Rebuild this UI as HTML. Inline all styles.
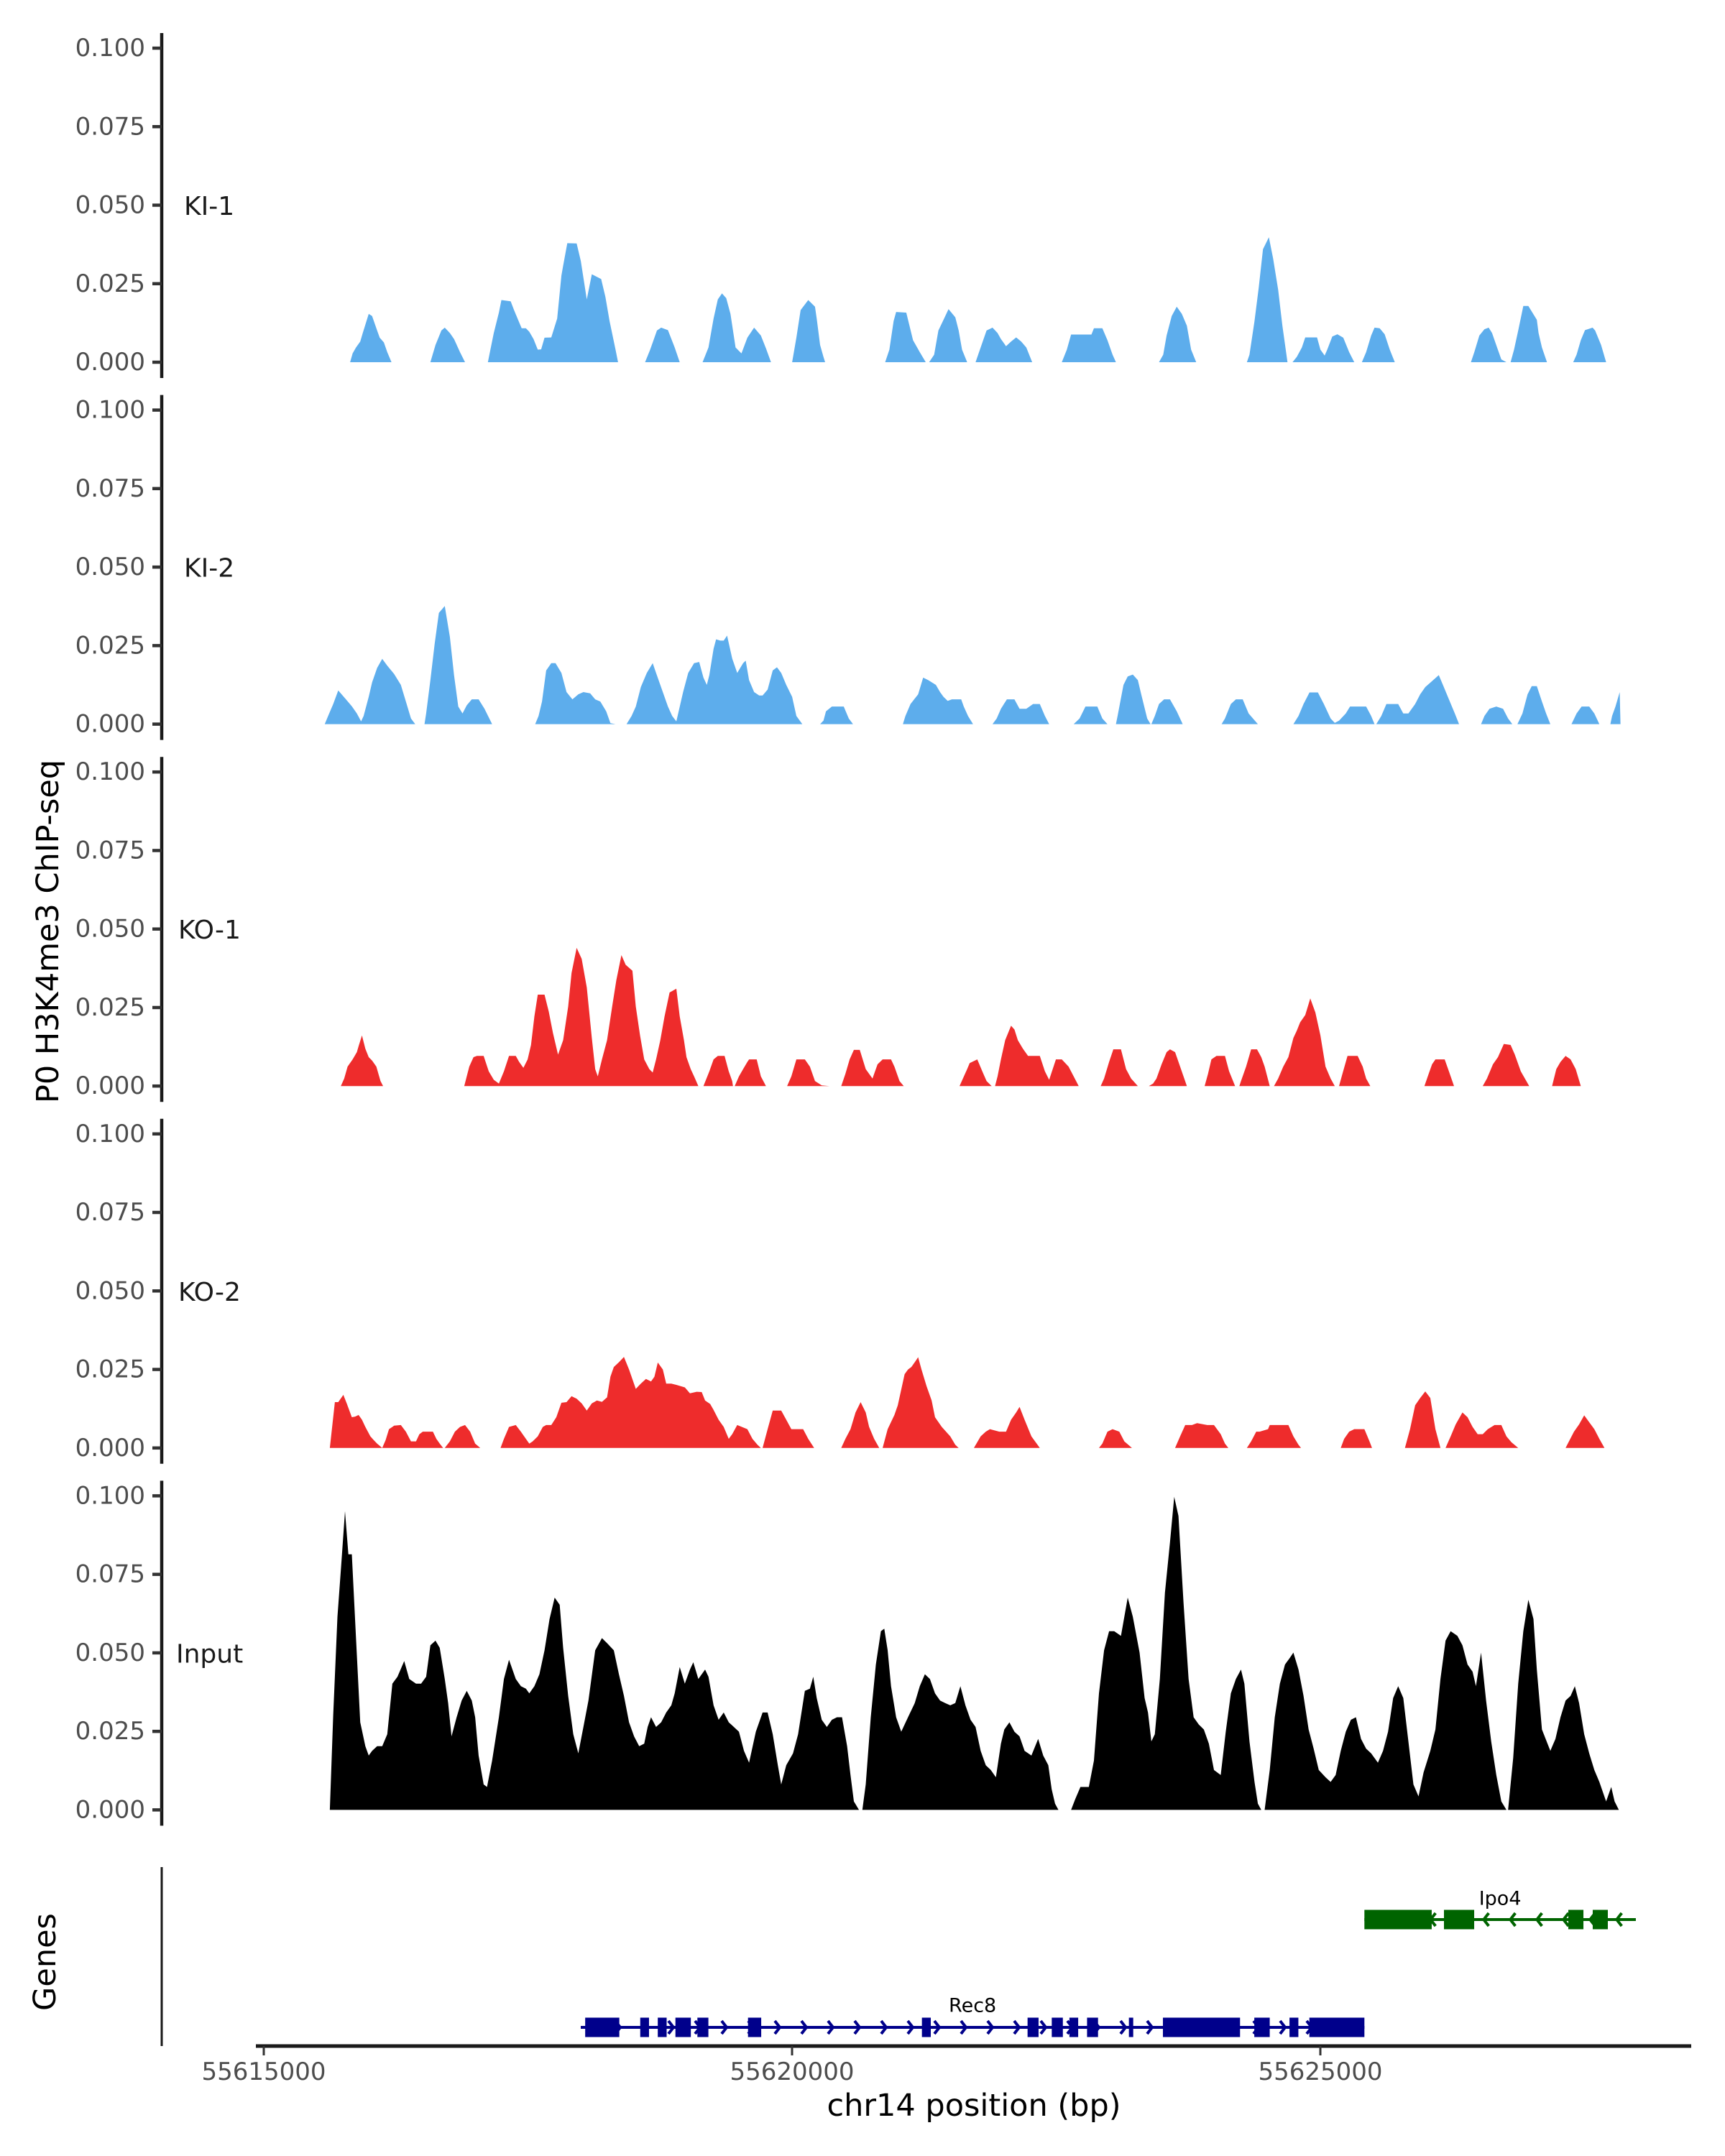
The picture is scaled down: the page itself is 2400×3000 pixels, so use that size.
<!DOCTYPE html>
<html><head><meta charset="utf-8"><style>
html,body{margin:0;padding:0;background:#fff;}
svg{display:block;font-family:"DejaVu Sans","Liberation Sans",sans-serif;}
</style></head><body>
<svg id="chart" width="2400" height="3000" viewBox="0 0 2400 3000" xmlns="http://www.w3.org/2000/svg">
<rect x="0" y="0" width="2400" height="3000" fill="#fff"/>
<g id="tracks"></g>
<g id="genes"></g>
<g id="xaxis"></g>
<text x="67" y="1296" transform="rotate(-90 67 1296)" text-anchor="middle" dominant-baseline="central" font-size="43" fill="#000">P0 H3K4me3 ChIP-seq</text>
<text x="63" y="2730" transform="rotate(-90 63 2730)" text-anchor="middle" dominant-baseline="central" font-size="43" fill="#000">Genes</text>
<text x="1355" y="2930" text-anchor="middle" dominant-baseline="central" font-size="43" fill="#000">chr14 position (bp)</text>
</svg>
<script>
// positions: bp offset from 55615000; values in units of 0.001
const trackNames = ["KI-1","KI-2","KO-1","KO-2","Input"];
const trackColors = ["#5DADEC","#5DADEC","#EE2C2C","#EE2C2C","#000000"];
const yTicks = [0, 0.025, 0.05, 0.075, 0.1];
const yTickLabels = ["0.000","0.025","0.050","0.075","0.100"];
const xTicks = [55615000, 55620000, 55625000];
const xTickLabels = ["55615000","55620000","55625000"];

const ki1Pos = [817,841,873,913,937,993,1025,1073,1097,1137,1169,1209,
1577,1625,1681,1713,1761,1801,1857,1905,
2121,2145,2177,2225,2249,2337,2369,2417,2441,2481,2513,2553,2593,2625,2657,2721,2777,2817,2833,2873,2961,3001,3057,3105,3193,3233,3273,3329,3353,
3609,3657,3721,3761,3825,3889,3937,
4153,4209,4257,4297,4337,4377,4417,4465,4521,4577,4641,4705,4753,4801,
5001,5041,5081,5153,5217,5233,5265,5297,5313,
5881,5921,5961,5985,6081,6145,6209,6265,
6297,6345,6385,6433,6481,6545,6577,6609,6657,
6737,6793,6841,6897,6945,6977,7025,7073,7121,7169,7217,7273,
7553,7601,7641,7833,7857,7937,7985,8033,8065,
8473,8513,8545,8593,8641,8689,8737,8777,8825,
9305,9329,9377,9417,9457,9513,9553,9601,9641,9689,
9737,9777,9825,9857,9969,10001,10041,10065,10113,10161,10217,10273,10321,
10393,10433,10481,10513,10561,10609,10657,10705,
11425,11457,11505,11553,11593,11625,11673,11713,11761,
11801,11833,11873,11921,11969,12049,12065,12097,12145,
12393,12425,12465,12505,12577,12601,12657,12705];
const ki1Val = [0,2.8,4.7,6.6,9.3,15.4,14.7,10.1,7.8,6.3,3.2,0,
0,5.5,10.1,11.0,9.3,7.4,3.2,0,
0,4.0,9.3,15.8,19.8,19.4,16.6,12.7,10.8,10.8,9.7,7.4,4.0,4.1,7.8,7.9,13.9,27.6,30.7,37.9,37.8,32.2,20.0,28.0,26.5,20.8,13.1,4.0,0,
0,4.0,10.1,11.0,10.2,4.7,0,
0,4.7,13.9,20.0,21.9,20.4,15.4,4.7,2.8,7.8,11.0,8.5,4.4,0,
0,7.8,16.6,19.8,17.7,13.9,5.5,1.7,0,
0,4.0,13.1,16.0,15.8,7.0,3.2,0,
0,2.4,10.1,13.5,16.9,14.3,10.1,4.0,0,
0,5.5,10.1,11.0,9.3,7.4,5.1,6.6,7.9,6.6,4.7,0,
0,4.0,8.8,8.8,10.8,10.8,7.0,2.4,0,
0,2.4,8.5,14.7,17.7,15.4,11.6,4.0,0,
0,2.4,13.1,23.8,36.0,39.8,33.0,23.1,11.6,0,
0,1.7,4.7,7.9,7.9,4.0,2.1,4.0,8.2,8.9,7.8,3.2,0,
0,3.2,8.5,11.0,10.8,8.9,4.0,0,
0,3.2,8.5,10.5,11.0,9.3,4.7,0.9,0,
0,4.0,10.1,17.9,17.9,13.5,9.3,4.7,0,
0,2.4,7.0,10.2,11.0,10.1,5.5,0];

const ki2Pos = [577,609,657,705,737,785,833,881,921,945,993,1025,1073,1121,1169,1233,1297,1345,1393,1433,
1521,1537,1577,1617,1657,1713,1761,1801,1841,1881,1921,1969,2033,2089,2161,
2569,2601,2633,2673,2721,2761,2817,2865,2921,2977,3025,3089,3137,3185,3241,3281,3329,
3433,3481,3521,3569,3625,3681,3713,3777,3825,3865,3905,3969,4017,4073,4121,4161,4193,4217,4257,4281,4321,4353,4385,4433,4481,4537,4561,4593,4641,4689,4721,4769,4817,4857,4897,4945,5001,5041,5097,
5265,5297,5321,5377,5489,5537,5577,
6049,6073,6121,6193,6241,6289,6361,6401,6433,6473,6513,6601,6625,6665,6713,
6897,6937,6977,7033,7105,7153,7217,7281,7345,7393,7433,
7665,7721,7777,7889,7937,7985,
8065,8081,8137,8177,8225,8273,8305,8361,8393,
8401,8433,8473,8521,8577,8641,8697,
9065,9097,9153,9201,9265,9321,9409,
9745,9793,9841,9897,9977,10033,10097,10137,10177,10241,10281,10321,10369,10433,10481,10513,
10529,10577,10625,10657,10737,10785,10833,10897,10945,10993,11057,11121,11169,11217,11273,11313,
11521,11553,11601,11665,11729,11777,11817,
11865,11913,11961,12001,12049,12097,12137,12177,
12377,12425,12473,12545,12593,12641,
12745,12761,12793,12833,12841];
const ki2Val = [0,2.6,6.4,10.7,9.5,7.6,5.7,3.4,0.9,2.6,8.7,13.3,17.9,20.8,18.6,16.0,12.5,7.2,1.8,0,
0,3.4,14.0,25.5,35.4,37.6,27.8,15.6,5.6,3.4,6.0,7.9,7.9,4.9,0,
0,2.6,7.2,17.1,19.4,19.4,16.3,10.2,7.9,9.5,10.2,9.8,7.9,7.2,4.1,0.3,0,
0,2.6,5.6,11.8,16.3,19.4,16.3,10.2,5.6,2.6,0.9,10.2,16.3,19.4,19.8,14.8,12.5,15.6,24.0,27.0,26.6,26.6,28.2,20.9,16.3,19.4,20.2,14.0,10.2,9.1,9.1,11.0,17.1,18.1,16.3,12.5,8.7,2.6,0,
0,1.1,4.1,5.6,5.6,1.8,0,
0,2.6,6.4,9.5,14.8,14.0,12.5,10.2,8.7,7.4,7.9,7.9,5.6,2.6,0,
0,1.8,4.9,7.9,7.9,4.9,4.9,6.4,6.4,2.6,0,
0,1.8,5.6,5.6,1.8,0,
0,2.6,12.5,15.2,15.8,14.0,9.5,1.8,0,
0,2.6,6.4,7.9,7.9,4.1,0,
0,1.8,6.4,7.9,7.9,3.4,0,
0,2.6,6.4,10.1,10.1,6.4,1.8,0.4,1.1,3.4,5.6,5.6,5.6,5.6,2.6,0,
0,2.6,6.4,6.4,6.4,3.4,3.4,6.4,9.5,11.8,13.7,15.6,11.8,7.9,3.4,0,
0,2.6,4.9,5.6,4.9,1.8,0,
0,3.4,9.5,12.1,12.1,7.2,3.4,0,
0,3.4,5.6,5.6,3.4,0,
0,2.6,5.6,10.2,0];

const ko1Pos = [729,761,793,841,881,897,929,961,993,1025,1065,1105,1129,
1897,1945,1985,2017,2081,2129,2177,2225,2273,2321,2385,2417,2457,2497,2529,2561,2593,2657,2697,2737,2785,2833,2881,2913,2961,3009,3057,3105,3137,3161,3201,3249,3297,3337,3385,3425,3489,3521,3561,3601,3649,3681,3713,3753,3793,3841,3905,3937,3977,4001,4041,4073,4113,
4161,4217,4257,4297,4361,4401,4433,4441,
4457,4497,4537,4577,4593,4665,4705,4753,
4953,4993,5041,5121,5169,5217,5281,5353,
5465,5505,5545,5585,5641,5697,5761,5809,5857,5937,5969,6017,6057,
6585,6617,6657,6681,6753,6801,6841,6889,
6921,6945,6977,7017,7073,7105,7137,7185,7233,7345,7393,7433,7497,7553,7617,7665,7713,
7921,7953,8001,8041,8113,8161,8209,8273,
8377,8417,8449,8497,8545,8577,8625,8673,8737,
8905,8937,8969,9017,9097,9137,9193,
9233,9249,9297,9345,9401,9441,9473,9521,
9561,9601,9649,9697,9745,9777,9809,9857,9905,9953,10001,10049,10097,10137,
10177,10209,10257,10353,10401,10433,10473,
10985,11025,11057,11089,11177,11217,11265,
11537,11577,11633,11681,11737,11801,11841,11897,11977,
12193,12233,12273,12321,12369,12417,12465];
const ko1Val = [0,2.4,6.2,8.5,10.8,12.7,16.1,11.9,9.2,8.1,6.2,1.6,0,
0,6.2,9.2,9.6,9.6,4.7,2.0,0.8,4.7,9.6,9.6,7.7,5.8,8.5,13.1,22.2,29.1,29.1,23.7,16.9,10.0,14.6,25.3,36.0,44.0,40.5,31.4,15.3,5.4,3.1,8.5,14.6,25.3,33.7,41.7,38.6,36.7,25.3,16.1,8.5,5.4,4.3,8.5,14.6,22.2,29.8,31.0,22.2,14.6,9.2,5.4,3.1,0,
0,4.7,8.5,9.6,9.6,4.7,1.6,0,
0,3.1,5.4,7.7,8.5,8.5,3.1,0,
0,3.1,8.5,8.5,6.2,1.6,0.2,0,
0,3.9,8.5,11.5,11.5,5.4,2.4,6.9,8.5,8.5,6.2,1.6,0,
0,2.4,5.4,7.3,8.5,4.7,1.6,0,
0,3.1,8.5,14.6,19.2,18.0,14.6,11.9,9.6,9.6,4.7,2.0,8.5,8.5,6.2,3.1,0,
0,2.4,7.7,11.7,11.7,5.4,2.4,0,
0,0.8,2.4,6.9,10.8,11.7,10.8,6.2,0,
0,3.9,8.5,9.6,9.6,4.7,0,
0,1.6,6.2,11.7,11.7,9.2,6.2,0,
0,2.4,6.2,9.2,15.3,17.6,20.3,22.6,27.9,23.4,16.1,6.2,2.4,0,
0,3.9,9.6,9.6,6.2,2.4,0,
0,3.9,6.9,8.5,8.5,4.7,0,
0,2.4,6.9,9.2,13.4,13.1,10.0,4.7,0,
0,5.4,7.7,9.6,8.5,5.4,0];

const ko2Pos = [625,657,673,705,753,785,833,865,897,929,961,1009,1041,1073,1121,1153,1185,1217,1233,1297,1345,1393,1441,1473,1505,1601,1633,1665,1697,1713,1761,1809,1857,1905,1953,2001,2049,
2241,2273,2321,2385,2433,2481,2513,2545,2593,2641,2673,2721,2769,2817,2865,2913,2961,3009,3057,3105,3153,3201,3249,3281,3313,3361,3409,3457,3521,3569,3617,3665,3697,3729,3777,3809,3857,3905,3985,4033,4097,4145,4177,4225,4257,4305,4353,4401,4433,4481,4577,4625,4673,4705,
4721,4769,4817,4897,4945,4993,5105,5153,5209,
5465,5505,5553,5601,5649,5697,5729,5777,5825,5857,5905,5969,6001,6065,6097,6129,6161,6193,6225,6273,6321,6353,6417,6497,6545,6577,
6721,6785,6833,6873,6961,7025,7073,7121,7153,7201,7265,7345,
7905,7937,7985,8033,8097,8145,8217,
8625,8673,8721,8785,8833,8929,8993,9057,9097,9129,
9305,9345,9393,9425,9505,9521,9697,9745,9793,9817,
10193,10225,10273,10321,10417,10465,10489,
10801,10849,10897,10945,10993,11041,11089,11137,
11185,11233,11281,11345,11393,11441,11489,11537,11585,11649,11713,11761,11809,11873,
12321,12353,12401,12449,12497,12545,12593,12641,12689];
const ko2Val = [0,9.8,14.6,14.6,16.9,14.2,9.8,10.0,10.5,9.0,6.7,3.7,2.5,1.4,0,2.5,6.0,6.7,7.1,7.3,5.2,2.1,2.1,4.4,5.2,5.2,2.9,1.4,0,0,2.1,5.2,6.7,7.3,5.2,1.4,0,
0,2.9,6.7,7.3,5.2,2.9,1.4,2.1,3.7,6.7,7.3,7.3,9.8,14.4,14.6,16.5,15.7,14.2,11.9,14.2,15.1,14.7,16.1,22.7,25.8,27.3,29.0,25.0,18.8,20.5,22.0,21.2,22.7,27.2,25.0,20.5,20.5,20.1,19.3,17.4,17.9,17.8,15.1,14.0,12.1,9.0,6.7,2.9,4.4,7.3,6.0,2.9,1.0,0,
0,6.0,11.9,11.9,9.0,6.0,6.0,2.9,0,
0,2.9,6.0,11.3,14.6,11.3,6.7,2.9,0,0,6.0,10.5,13.6,23.5,25.0,25.8,27.3,28.9,25.0,19.7,15.1,9.8,6.7,3.7,1.0,0,
0,3.7,5.2,6.0,5.2,5.2,9.0,11.3,13.1,9.0,3.7,0,
0,1.4,5.2,6.0,5.2,2.1,0,
0,3.7,7.3,7.3,7.9,7.3,7.3,4.4,1.4,0,
0,2.1,5.2,5.2,6.0,7.3,7.3,3.7,1.0,0,
0,2.9,5.2,6.0,6.0,2.1,0,
0,6.0,13.6,15.9,18.0,15.9,6.0,0,
0,3.7,7.5,11.3,9.8,6.7,4.4,4.4,6.0,7.3,7.3,3.7,1.8,0,
0,2.1,5.2,7.5,10.4,8.2,6.0,2.9,0];

const inputPos = [625,657,697,737,769,801,833,881,913,961,993,1025,1073,1121,1169,1217,1265,1329,1377,1441,1489,1537,1577,1625,1665,1713,1745,1777,1825,1873,1921,1969,2001,2033,2081,2113,2161,2225,2273,2321,2385,2433,2481,2513,2561,2609,2657,2705,2753,2801,2833,2881,2929,2977,3025,3073,3137,3201,3249,3313,3361,3409,3457,3505,3553,3601,3633,3665,3713,3761,3809,3857,3889,3937,3985,4033,4065,4113,4177,4209,4257,4305,4353,4401,4449,4497,4545,4593,4657,4721,4769,4817,4865,4897,4945,5009,5057,5121,5169,5201,5233,5281,5329,5377,5425,5473,5521,5553,5585,5633,
5665,5697,5745,5793,5841,5873,5905,5937,5985,6033,6097,6161,6209,6257,6305,6353,6401,6449,6497,6545,6593,6641,6689,6737,6785,6833,6881,6929,6977,7009,7057,7105,7153,7201,7265,7329,7377,7425,7457,7489,7521,
7641,7681,7729,7809,7857,7905,7953,8001,8049,8113,8177,8225,8289,8337,8369,8401,8433,8481,8529,8577,8617,8657,8705,8753,8801,8849,8897,8945,8993,9057,9105,9153,9201,9249,9281,9329,9377,9409,9441,
9473,9521,9569,9617,9665,9713,9745,9793,9841,9889,9937,9985,10049,10097,10145,10193,10241,10289,10337,10385,10433,10481,10545,10593,10641,10689,10737,10785,10833,10881,10929,10977,11041,11089,11137,11185,11233,11297,11345,11393,11441,11473,11521,11569,11617,11665,11713,11761,11777,11825,11873,11921,11969,12017,12049,12097,12177,12225,12273,12321,12369,12409,12449,12497,12545,12593,12641,12705,12753,12785,12825];
const inputVal = [0,30.2,61.5,79.8,95.1,81.4,81.4,49.3,27.9,20.3,17.3,18.8,20.3,20.3,24.1,40.2,42.4,47.4,41.7,40.2,40.2,42.4,52.4,53.9,51.6,41.7,34.0,23.4,29.5,34.8,37.9,34.8,29.5,17.3,8.1,7.3,15.7,29.5,41.7,47.8,41.7,39.4,38.6,37.1,39.4,43.2,50.8,60.8,67.6,65.3,51.6,36.3,24.1,18.0,26.4,34.8,50.8,54.7,53.1,50.8,43.2,36.3,27.9,23.4,20.3,21.1,26.4,29.5,26.4,27.9,31.0,33.3,37.1,45.5,40.2,44.7,47.0,41.7,44.7,42.4,33.3,28.7,31.0,27.9,26.4,24.9,18.8,15.0,24.9,31.0,31.0,24.1,14.2,8.1,14.2,18.0,24.1,37.9,38.6,42.4,35.6,28.7,26.4,28.7,29.5,29.5,20.3,11.1,2.7,0,
0,8.1,29.5,46.3,56.9,57.7,50.8,39.4,29.5,24.9,29.5,34.0,39.4,43.2,41.7,37.1,34.8,34.0,33.3,34.0,39.4,33.3,28.7,26.4,18.8,14.2,12.7,10.4,21.1,25.6,27.9,24.9,23.4,18.8,17.3,22.6,17.3,14.2,6.6,2.0,0,
0,3.5,7.3,7.3,15.7,37.1,50.8,56.9,56.9,55.4,67.6,61.5,50.1,35.6,31.0,21.8,24.1,41.7,69.2,85.2,99.7,93.6,66.1,41.7,29.5,27.2,25.6,21.1,12.7,11.1,24.9,37.1,41.7,44.7,40.2,21.8,8.9,2.0,0,
0,12.7,29.5,40.2,46.3,48.5,50.1,44.7,36.3,25.6,19.5,12.7,10.4,8.9,11.1,18.8,24.9,28.7,29.5,22.6,19.5,18.0,15.0,18.8,24.9,35.6,39.4,35.6,21.8,8.1,4.3,11.9,18.8,25.6,41.7,53.9,56.9,55.4,52.4,46.3,44.0,39.4,50.1,34.8,21.8,11.1,2.7,0,0,16.5,40.2,56.9,66.9,60.8,44.7,25.6,18.8,22.6,29.5,34.8,36.3,39.4,34.0,24.1,18.0,12.7,8.9,2.7,7.3,2.7,0];

const trackPos = [ki1Pos, ki2Pos, ko1Pos, ko2Pos, inputPos];
const trackVal = [ki1Val, ki2Val, ko1Val, ko2Val, inputVal];

// genes (bp offsets from 55615000)
const rec8ExonStart = [3042,3563,3729,3896,4104,4583,6229,7229,7458,7625,7792,8188,8510,9375,9708,9896];
const rec8ExonEnd   = [3365,3646,3813,4042,4208,4708,6313,7333,7563,7708,7896,8229,9240,9521,9792,10417];
const rec8Span = [3000,10417];
const ipo4ExonStart = [10417,11170,12347,12578];
const ipo4ExonEnd   = [11054,11456,12490,12721];
const ipo4Span = [10417,12986];

const NS = "http://www.w3.org/2000/svg";
const X0 = 55615000;
function xScale(bp){ return 367 + (bp - X0) * 0.147; }
function xOff(off){ return xScale(X0 + off); }
function baseY(i){ return 504 + 503.6 * i; }
function yScale(i, v){ return baseY(i) - v * 4370; }
function mk(tag, attrs, parent){
  const el = document.createElementNS(NS, tag);
  for (const k in attrs) el.setAttribute(k, attrs[k]);
  parent.appendChild(el);
  return el;
}

const tracksG = document.getElementById("tracks");
for (let i = 0; i < trackNames.length; i++){
  const g = mk("g", {}, tracksG);
  
  
  const b = baseY(i);
  // axis line
  const ax = mk("line", {x1:225, x2:225, y1:yScale(i,0.1)-21, y2:b+22, stroke:"#1a1a1a", "stroke-width":4.5}, g);
  
  
  for (let t = 0; t < yTicks.length; t++){
    const y = yScale(i, yTicks[t]);
    const tk = mk("line", {x1:212, x2:225, y1:y, y2:y, stroke:"#333", "stroke-width":4.5}, g);
    
    
    const tl = mk("text", {x:202, y:y, "text-anchor":"end", "dominant-baseline":"central", "font-size":34, fill:"#4d4d4d"}, g);
    tl.textContent = yTickLabels[t];
    
    
  }
  const lab = mk("text", {x: i===4 ? 245 : (i>=2 ? 248 : 256), y: yScale(i,0.05)+2, "dominant-baseline":"central", "font-size":36, fill:"#1a1a1a"}, g);
  lab.textContent = trackNames[i];
  
  
  // signal area
  const P = trackPos[i], V = trackVal[i];
  let d = "M" + xOff(P[0]).toFixed(1) + "," + b;
  for (let k = 0; k < P.length; k++){
    d += "L" + xOff(P[k]).toFixed(1) + "," + yScale(i, V[k]*0.001).toFixed(1);
  }
  d += "L" + xOff(P[P.length-1]).toFixed(1) + "," + b + "Z";
  const area = mk("path", {d:d, fill:trackColors[i]}, g);
  
  
}

// genes
const genesG = document.getElementById("genes");
const gax = mk("line", {x1:225, x2:225, y1:2598, y2:2847, stroke:"#1a1a1a", "stroke-width":3}, genesG);



function drawGene(name, starts, ends, span, yc, color, dir, labelY){
  const g = mk("g", {}, genesG);
  
  
  const x1 = xOff(span[0]), x2 = xOff(span[1]);
  mk("line", {x1:x1, x2:x2, y1:yc, y2:yc, stroke:color, "stroke-width":4}, g);
  // chevrons
  for (let x = x1 + 18; x < x2 - 4; x += 37){
    const s = dir * 7;
    mk("polyline", {points:(x - s)+","+(yc-9)+" "+x+","+yc+" "+(x - s)+","+(yc+9), fill:"none", stroke:color, "stroke-width":4}, g);
  }
  for (let k = 0; k < starts.length; k++){
    const ex = mk("rect", {x:xOff(starts[k]), y:yc-13.5, width:Math.max(3, xOff(ends[k]) - xOff(starts[k])), height:27, fill:color}, g);
    
    
  }
  const t = mk("text", {x:(x1+x2)/2, y:labelY, "text-anchor":"middle", "dominant-baseline":"central", "font-size":27, fill:"#000"}, g);
  t.textContent = name;
  
  
}
drawGene("Rec8", rec8ExonStart, rec8ExonEnd, rec8Span, 2821, "#00008B", 1, 2791);
drawGene("Ipo4", ipo4ExonStart, ipo4ExonEnd, ipo4Span, 2671, "#006400", -1, 2642);

// x axis
const xg = document.getElementById("xaxis");
const xl = mk("line", {x1:356, x2:2353, y1:2847, y2:2847, stroke:"#1a1a1a", "stroke-width":5}, xg);


for (let t = 0; t < xTicks.length; t++){
  const x = xScale(xTicks[t]);
  const tk = mk("line", {x1:x, x2:x, y1:2847, y2:2860, stroke:"#333", "stroke-width":3}, xg);
  
  
  const tl = mk("text", {x:x, y:2883, "text-anchor":"middle", "dominant-baseline":"central", "font-size":34, fill:"#4d4d4d"}, xg);
  tl.textContent = xTickLabels[t];
  
  
}
</script>
</body></html>
